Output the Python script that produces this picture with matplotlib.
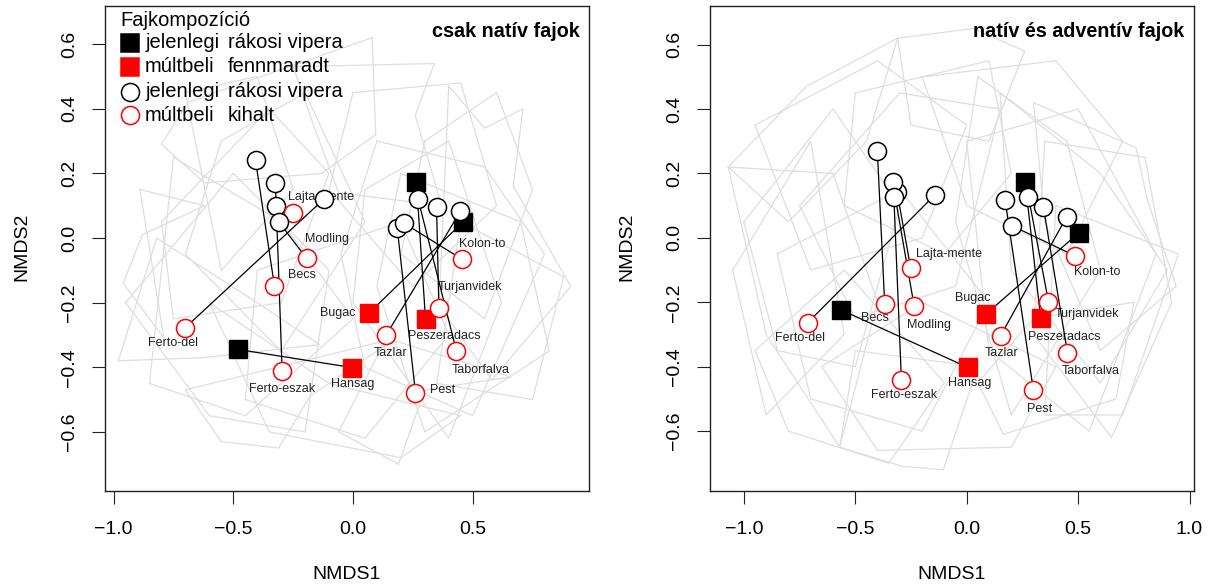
import numpy as np
import matplotlib.pyplot as plt

plt.rcParams['font.family'] = ['Liberation Sans', 'DejaVu Sans']

# sites (the past / red point carries the label)
sites = ["Lajta-mente", "Modling", "Becs", "Ferto-del", "Ferto-eszak", "Hansag",
         "Bugac", "Tazlar", "Peszeradacs", "Turjanvidek", "Taborfalva", "Pest", "Kolon-to"]
# True -> viper survived (squares), False -> extinct (circles)
survived = [False, False, False, False, False, True,
            True, False, True, False, False, False, False]

# panel 1: native species only
now1_x = [-0.320, -0.310, -0.407, -0.122, -0.324, -0.480, 0.460, 0.449, 0.265, 0.349, 0.272, 0.185, 0.215]
now1_y = [0.099, 0.050, 0.240, 0.120, 0.171, -0.345, 0.050, 0.083, 0.173, 0.097, 0.120, 0.030, 0.045]
past1_x = [-0.250, -0.194, -0.328, -0.700, -0.296, -0.003, 0.066, 0.139, 0.303, 0.359, 0.432, 0.261, 0.456]
past1_y = [0.076, -0.063, -0.149, -0.277, -0.411, -0.401, -0.233, -0.300, -0.251, -0.218, -0.349, -0.479, -0.066]

# panel 2: native and adventive species
now2_x = [-0.312, -0.333, -0.401, -0.142, -0.327, -0.563, 0.502, 0.449, 0.262, 0.277, 0.344, 0.172, 0.202]
now2_y = [0.141, 0.175, 0.270, 0.134, 0.128, -0.224, 0.015, 0.066, 0.175, 0.128, 0.097, 0.118, 0.038]
past2_x = [-0.252, -0.236, -0.368, -0.713, -0.293, 0.004, 0.086, 0.152, 0.332, 0.367, 0.452, 0.299, 0.487]
past2_y = [-0.092, -0.211, -0.206, -0.263, -0.441, -0.402, -0.237, -0.304, -0.249, -0.198, -0.356, -0.472, -0.056]

# label offsets from the red point, in pixels (dx right, dy down)
lab1 = [(28, -16), (20, -19), (27, -11), (-12, 15), (0, 18), (0, 16), (-31, 0),
        (4, 18), (19, 17), (31, -21), (24, 19), (27, -3), (20, -15)]
lab2 = [(38, -14), (15, 19), (-10, 14), (-8, 15), (3, 15), (2, 16), (-13, -16),
        (1, 17), (24, 19), (38, 12), (23, 18), (6, 19), (22, 16)]

# grey background hulls (rough tracing)
hulls1 = [
    [(0.08, 0.62), (-0.69, 0.42), (-0.80, 0.29), (-0.62, 0.17), (-0.13, 0.20), (0.095, 0.32)],
    [(-0.25, 0.53), (0.34, 0.54), (0.26, 0.38), (0.37, 0.10), (-0.06, 0.14), (-0.17, 0.36)],
    [(0.40, 0.47), (0.55, 0.34), (0.71, 0.40), (0.67, 0.16), (0.91, -0.15), (0.58, -0.44), (0.36, -0.21)],
    [(-0.89, 0.15), (-0.79, -0.31), (-0.96, -0.14), (-0.88, 0.01), (-0.62, 0.10)],
    [(-0.55, -0.63), (-0.31, -0.65), (-0.18, -0.49), (0.18, -0.31), (-0.70, -0.47)],
    [(0.19, -0.70), (0.30, -0.47), (0.66, -0.43), (0.14, -0.31), (-0.06, -0.60)],
    [(-0.98, -0.38), (-0.62, -0.37), (-0.14, -0.33), (-0.38, -0.21), (-0.82, 0.00)],
    [(-0.55, 0.30), (-0.20, 0.45), (0.05, 0.05), (-0.30, -0.35), (-0.70, -0.05)],
    [(0.10, 0.30), (0.55, 0.22), (0.80, -0.05), (0.50, -0.55), (0.05, -0.40), (-0.05, -0.05)],
    [(-0.95, -0.20), (-0.50, 0.20), (-0.10, -0.10), (-0.20, -0.60), (-0.60, -0.55)],
    [(0.00, 0.45), (0.45, 0.48), (0.60, 0.10), (0.25, -0.15), (-0.10, 0.15)],
    [(-0.40, -0.10), (0.20, 0.05), (0.40, -0.30), (0.05, -0.62), (-0.45, -0.50)],
    [(0.20, 0.20), (0.70, 0.05), (0.82, -0.35), (0.30, -0.60), (0.10, -0.15)],
    [(-0.80, 0.05), (-0.35, 0.40), (-0.10, 0.20), (-0.30, -0.20), (-0.75, -0.25)],
    [(-0.75, 0.25), (-0.30, 0.05), (0.00, -0.25), (-0.45, -0.55), (-0.85, -0.45)],
    [(0.30, 0.30), (0.60, 0.45), (0.75, 0.15), (0.55, -0.25), (0.20, -0.05)],
    [(-0.60, -0.20), (-0.10, -0.45), (0.45, -0.55), (0.20, -0.68), (-0.35, -0.60)],
    [(0.05, 0.15), (0.40, 0.30), (0.62, -0.20), (0.40, -0.62), (0.00, -0.20)],
    [(-0.70, 0.45), (-0.40, 0.50), (-0.25, 0.15), (-0.55, -0.10)],
    [(0.45, 0.05), (0.88, -0.12), (0.75, -0.50), (0.35, -0.45)],
]
hulls2 = [
    [(-1.07, 0.22), (-0.72, 0.47), (-0.31, 0.62), (-0.45, 0.30), (-0.80, 0.05)],
    [(-0.31, 0.62), (0.03, 0.65), (0.26, 0.58), (0.10, 0.30), (-0.25, 0.35)],
    [(0.30, 0.42), (0.76, 0.28), (0.81, 0.12), (0.94, -0.15), (0.60, -0.35), (0.35, 0.05)],
    [(-1.07, 0.22), (-0.90, -0.30), (-0.57, -0.65), (-0.40, -0.20), (-0.60, 0.20)],
    [(-0.57, -0.65), (-0.285, -0.71), (-0.105, -0.72), (0.05, -0.40), (-0.50, -0.35)],
    [(0.165, -0.61), (0.67, -0.50), (0.75, -0.20), (0.30, -0.25), (0.05, -0.45)],
    [(-0.95, 0.35), (-0.40, 0.55), (0.00, 0.35), (-0.20, 0.00), (-0.70, -0.10)],
    [(-0.20, 0.50), (0.40, 0.55), (0.70, 0.30), (0.45, -0.05), (0.00, 0.10)],
    [(-0.85, -0.05), (-0.30, 0.15), (0.10, -0.20), (-0.20, -0.60), (-0.70, -0.50)],
    [(0.00, 0.30), (0.50, 0.40), (0.85, -0.05), (0.55, -0.60), (0.10, -0.35)],
    [(-0.65, -0.40), (-0.20, -0.20), (0.40, -0.40), (0.20, -0.65), (-0.40, -0.66)],
    [(-1.00, 0.05), (-0.60, 0.40), (-0.30, 0.10), (-0.50, -0.40), (-0.85, -0.35)],
    [(0.15, 0.45), (0.60, 0.20), (0.90, -0.10), (0.60, -0.45), (0.20, -0.10)],
    [(-0.50, 0.45), (0.10, 0.55), (0.20, 0.20), (-0.10, -0.05), (-0.55, 0.10)],
    [(-0.95, -0.35), (-0.55, -0.10), (-0.10, -0.45), (-0.35, -0.70), (-0.80, -0.60)],
    [(0.35, 0.30), (0.80, 0.25), (0.92, -0.20), (0.65, -0.62), (0.30, -0.30)],
    [(-0.75, 0.10), (-0.30, 0.45), (0.15, 0.40), (-0.05, -0.15), (-0.50, -0.25)],
    [(0.05, 0.50), (0.45, 0.30), (0.60, -0.10), (0.20, -0.55), (-0.05, 0.05)],
    [(-1.05, -0.10), (-0.70, 0.30), (-0.55, -0.30), (-0.90, -0.55)],
    [(0.40, 0.10), (0.95, -0.05), (0.70, -0.55), (0.35, -0.55)],
]

panels = [
    dict(title="csak natív fajok", nx=now1_x, ny=now1_y, px=past1_x, py=past1_y, lab=lab1,
         hulls=hulls1, xlim=(-1.036, 0.986), ylim=(-0.783, 0.718),
         xt=[-1.0, -0.5, 0.0, 0.5], left=105),
    dict(title="natív és adventív fajok", nx=now2_x, ny=now2_y, px=past2_x, py=past2_y, lab=lab2,
         hulls=hulls2, xlim=(-1.152, 1.02), ylim=(-0.786, 0.720),
         xt=[-1.0, -0.5, 0.0, 0.5, 1.0], left=710),
]

W, H = 1211, 588
fig = plt.figure(figsize=(W / 100, H / 100), dpi=100)
ms = 13
red = "#ff0000"

for i, p in enumerate(panels):
    ax = fig.add_axes([p["left"] / W, (H - 491) / H, 484 / W, 485 / H])
    for h in p["hulls"]:
        hx = [v[0] for v in h] + [h[0][0]]
        hy = [v[1] for v in h] + [h[0][1]]
        ax.plot(hx, hy, color="#dedede", lw=0.9, zorder=1)
    for k in range(len(sites)):
        ax.plot([p["nx"][k], p["px"][k]], [p["ny"][k], p["py"][k]], color="black", lw=0.9, zorder=3)
        dx, dy = p["lab"][k]
        ax.annotate(sites[k], (p["px"][k], p["py"][k]), xytext=(dx * 0.72, -dy * 0.72),
                    textcoords="offset points", ha="center", va="center",
                    fontsize=9, color="#222222", zorder=2)
        if survived[k]:
            ax.plot(p["nx"][k], p["ny"][k], "s", ms=ms * 0.95, mfc="black", mec="black", zorder=4)
            ax.plot(p["px"][k], p["py"][k], "s", ms=ms * 0.95, mfc=red, mec=red, zorder=4)
        else:
            ax.plot(p["nx"][k], p["ny"][k], "o", ms=ms, mfc="white", mec="black", mew=1.1, zorder=4)
            ax.plot(p["px"][k], p["py"][k], "o", ms=ms, mfc="white", mec=red, mew=1.1, zorder=4)

    ax.set_xlim(*p["xlim"])
    ax.set_ylim(*p["ylim"])
    ax.set_xticks(p["xt"])
    ax.set_xticklabels([f"{t:.1f}".replace("-", "\u2212") for t in p["xt"]])
    yt = [-0.6, -0.4, -0.2, 0.0, 0.2, 0.4, 0.6]
    ax.set_yticks(yt)
    ax.set_yticklabels([f"{t:.1f}".replace("-", "\u2212") for t in yt], rotation=90, va="center")
    ax.tick_params(direction="out", length=9.4, width=0.8, labelsize=14, color="#222222")
    ax.tick_params(axis="x", pad=12)
    ax.tick_params(axis="y", pad=10)
    for s in ax.spines.values():
        s.set_linewidth(1.0)
        s.set_color("#222222")
    ax.set_xlabel("NMDS1", fontsize=14)
    ax.set_ylabel("NMDS2", fontsize=14)
    ax.xaxis.set_label_coords(0.5, -0.173)
    ax.xaxis.label.set_va("center")
    ax.yaxis.set_label_coords(-0.172, 0.503)
    ax.yaxis.label.set_va("center")
    ax.text(0.98, 0.947, p["title"], transform=ax.transAxes, ha="right", va="center",
            fontsize=14.2, fontweight="bold")

    if i == 0:
        # legend drawn by hand so that the two word columns line up
        fx = lambda px: (px - p["left"]) / 484
        fy = lambda py: (491 - py) / 485
        ax.text(fx(120), fy(21), "Fajkompozíció", transform=ax.transAxes, fontsize=14.5,
                ha="left", va="center")
        rows = [("s", "black", "black", "jelenlegi", "rákosi vipera"),
                ("s", red, red, "múltbeli", "fennmaradt"),
                ("o", "white", "black", "jelenlegi", "rákosi vipera"),
                ("o", "white", red, "múltbeli", "kihalt")]
        ys = [42.7, 67, 91.7, 115.3]
        for (m, fc, ec, w1, w2), yy in zip(rows, ys):
            ax.plot([fx(129.5)], [fy(yy)], m, ms=ms, mfc=fc, mec=ec, mew=1.1,
                    transform=ax.transAxes, zorder=5, clip_on=False)
            ax.text(fx(145), fy(yy), w1, transform=ax.transAxes, fontsize=14.5,
                    ha="left", va="center")
            ax.text(fx(227.5), fy(yy), w2, transform=ax.transAxes, fontsize=14.5,
                    ha="left", va="center")

fig.savefig("out.png", dpi=100)
